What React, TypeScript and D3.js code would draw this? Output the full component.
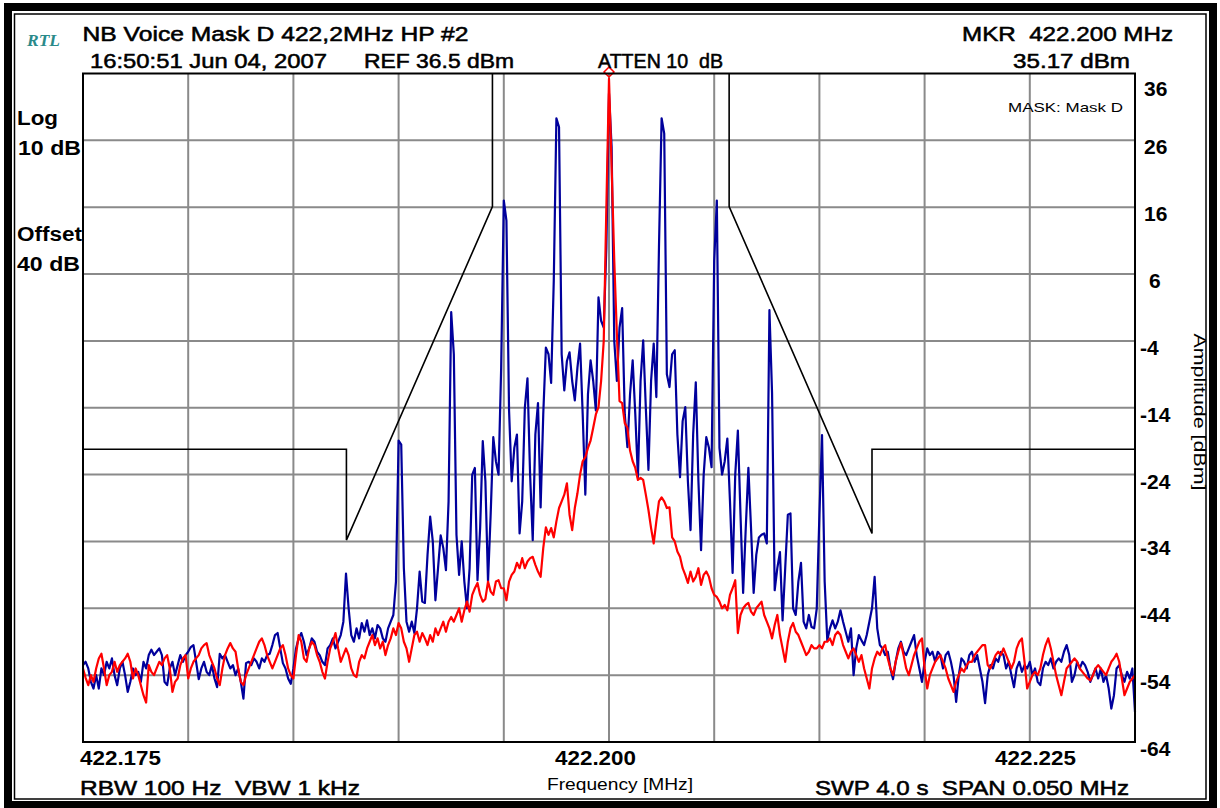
import React, { useEffect, useRef } from "react";
import * as d3 from "d3";

const WIDTH = 1220;
const HEIGHT = 808;

const startFreq = 422.175; // MHz
const stopFreq = 422.225;
const centerFreq = 422.2;

const ampTicks = [36, 26, 16, 6, -4, -14, -24, -34, -44, -54, -64];
const freqTickValues = [422.175, 422.2, 422.225];
const freqTickLabels = ["422.175", "422.200", "422.225"];

// 401 sweep points, dBm (modulated signal)
const blueTrace = [
  -52.5, -52, -53, -55, -56, -54, -56, -53, -54, -52, -53, -51.5, -54, -55.5, -53, -52, -54, -56.5, -55, -53,
  -54, -53.5, -55, -52, -53, -51, -50.2, -51, -50.5, -50, -51, -55, -55.5, -53, -52, -54, -52.5, -51, -52, -51,
  -50.5, -49.8, -49.5, -52, -54.6, -53, -52, -53.5, -54, -52.5, -54.5, -55.8, -50.8, -51.5, -51, -52, -53, -52.5, -54, -53,
  -55, -57.5, -52.2, -52, -52.5, -51.5, -52, -53, -51.5, -52, -51, -50.8, -49.5, -48, -47.7, -50, -52.2, -53, -54.5, -55.3,
  -53, -50, -48.5, -47.7, -49, -51, -50, -48.5, -49, -50.5, -51, -52, -52.5, -50, -49.5, -48.5, -50, -49, -48, -46,
  -38.8, -44, -48, -49, -47, -48.5, -46.2, -47.5, -45.8, -48, -47, -48.5, -46.5, -47, -48.5, -49, -47, -46, -45, -40,
  -18.9, -19.5, -38, -46, -47.5, -46, -47.7, -44, -38.5, -43, -43.2, -36, -30.3, -34, -42.8, -38, -33.1, -35, -38.3, -28,
  0.3, -6, -33, -39, -34, -40, -44, -38, -24, -23, -39.8, -32, -19, -25, -40, -30, -18.4, -22, -24, -8,
  17, 14, -14.4, -25, -20, -18, -32.8, -28, -14, -9.6, -24, -33.8, -18, -13.3, -28.9, -15, -5, -6, -10.3, 5,
  29.3, 28, -6, -11.4, -7, -5.7, -10, -12.9, -8, -4.4, -15, -27, -12, -6.9, -10, -14.4, 2.5, -1, -2, 10,
  33, 25, -4, -10, -2, 0.9, -15, -19.9, -12, -6.9, -15, -24.4, -10, -3.9, -14, -23.3, -10, -4.4, -12.4, 10,
  29.3, 27, -9, -10.9, -6, -5.4, -18, -24.4, -16, -13.9, -25, -32.3, -18, -10.2, -25, -35.3, -24, -18.4, -20, -22.9,
  8, 17, -20, -24, -22, -18.6, -28, -38.7, -24, -17.4, -30, -41.7, -32, -23, -32, -41.7, -36, -33.4, -33, -32.8,
  -34.3, 0.6, -11.8, -41.3, -38, -35.6, -45.8, -38, -30, -29.8, -44, -45, -40, -37.2, -46, -47, -45, -46.8, -47, -44,
  -30, -18.1, -40, -48.8, -47, -45.8, -47, -46, -44.3, -46, -47.5, -49, -47, -54, -50, -48, -48.8, -49.5, -48, -46,
  -44, -39.3, -47, -49.5, -50, -51, -50.5, -53, -54.6, -52, -50, -49, -50.5, -51, -50, -49, -48, -51, -53, -55,
  -52, -50, -51, -50.5, -52, -50.5, -51, -53, -51, -50.5, -52, -54, -58, -54, -51.5, -52, -53, -51, -50.5, -52,
  -51, -53, -55, -58.2, -54, -52.5, -53, -51.5, -52, -50.5, -51, -53, -52, -54, -55.8, -53, -52, -53.5, -52.5, -53,
  -52, -54, -53, -55, -55.5, -53, -52, -52.5, -51.5, -53, -52, -51.5, -52, -50.5, -49.5, -51, -55, -54, -52, -53,
  -52, -52.5, -53.5, -55, -54, -53, -54.5, -53, -55, -54, -56, -59, -57, -53, -52.5, -54, -55, -53.5, -54.5, -53,
  -59.5,
];

// 401 sweep points, dBm (unmodulated carrier)
const redTrace = [
  -53, -54.4, -55.5, -54, -55, -53, -51.5, -50.8, -53, -55.5, -54, -53.5, -52, -53.5, -52.5, -52, -51.5, -50.8, -52, -54.5,
  -53, -54, -55.5, -57, -58.1, -52.5, -53.5, -54, -53, -52, -52.5, -51.5, -51, -53, -56.5, -55, -54.5, -52.5, -51.5, -51,
  -54.5, -53, -52, -51.5, -51, -50, -49.5, -49.2, -51, -52, -53, -54.5, -55.5, -53, -51, -50, -49.2, -50, -50.5, -53,
  -55, -55.5, -54, -53, -52, -51, -50, -49, -48.5, -49.5, -51, -52, -53, -52, -51, -50, -49.5, -51, -53, -54,
  -54.5, -51, -48, -49, -51.5, -52, -50, -49, -49.5, -51, -52, -53.5, -54.5, -52, -50, -49, -47.7, -50, -52, -51,
  -50, -51, -53, -54, -54.3, -52, -51, -51.5, -50, -49, -48, -49.5, -48.5, -50, -49, -51, -49.5, -48.5, -47, -48,
  -46.2, -47, -49, -50, -52, -50, -48, -47.5, -49, -47.7, -48.5, -49.5, -48, -49, -47, -48, -47, -46, -47.5, -46,
  -45.3, -46, -45, -44, -46, -44.3, -43, -44.5, -42, -41, -40.2, -42, -43, -42.6, -40, -41.5, -42, -40, -39.8, -41,
  -41, -42.8, -40, -39, -38.5, -37.2, -38, -36.5, -38, -37, -36.5, -36.3, -37.5, -38.5, -39.3, -35, -31.9, -33, -32, -33.4,
  -31, -29, -28, -27, -25.3, -30, -32.3, -29, -26.8, -24, -22, -21.4, -20, -18.9, -17, -15, -13.9, -10, -4, 16,
  35.2, 22, 8, -3, -13, -13.3, -16.3, -17, -20.4, -22, -23, -24.8, -24.5, -24.8, -27, -29.3, -32, -34.3, -31, -28,
  -27.4, -28, -29, -28.9, -33.4, -34, -35.5, -36.3, -38, -39, -40.2, -38.5, -40, -39.3, -38, -40.5, -39, -38.5, -39.3, -41,
  -42, -42.3, -43, -44, -43.5, -44.3, -42, -41, -39.8, -47.7, -45, -44, -43.5, -43.2, -44.5, -45, -44, -43.5, -43, -45,
  -46, -47, -48.5, -46.5, -45, -48, -50, -52, -49, -47, -46.2, -47.5, -48, -49, -50, -51, -50.5, -49.5, -50, -50,
  -49.5, -50, -49, -49, -48.5, -49.5, -48, -47.5, -48, -49.5, -50.5, -51.5, -50.5, -50, -51, -52, -51, -53, -54.5, -56,
  -53, -51.5, -50.5, -51, -50, -49.5, -51.5, -53, -54, -52, -50.5, -49.2, -51, -53, -54, -52.5, -51, -50, -49, -48.5,
  -53, -56, -54, -53, -52, -51.5, -51, -52, -53, -54.5, -55.5, -56.5, -55, -54, -53, -53.5, -52.5, -52, -52, -51,
  -50.5, -50, -49.5, -49.5, -52.5, -53, -52, -51, -50.5, -51, -50, -51, -52, -53, -52, -50, -49, -48.5, -52, -56,
  -55, -54, -53.5, -54, -53, -51, -49.5, -48.5, -50, -52, -54, -55.5, -57, -55, -53, -52.5, -52, -51.5, -52, -53,
  -53.5, -54, -54.5, -54.8, -54, -53, -52.5, -53, -53.5, -54, -53, -52, -51.5, -50.8, -52, -54.5, -57, -56, -55, -54.5,
  -54,
];

// limit mask: offset from centre (kHz) and level (dBm)
const maskLeftKHz = [-25, -12.48, -12.48, -5.54, -5.54];
const maskLeftDbm = [-20.2, -20.2, -33.8, 16.1, 36];
const maskRightKHz = [5.71, 5.71, 12.5, 12.5, 25];
const maskRightDbm = [36, 16.1, -32.8, -20.2, -20.2];

const markerFreq = 422.2;
const markerDbm = 35.17;

const SANS = "'Liberation Sans', Arial, sans-serif";

const App = () => {
  const ref = useRef<SVGSVGElement>(null);

  useEffect(() => {
    const svg = d3.select(ref.current);
    svg.selectAll("*").remove();

    const left = 83;
    const right = 1135;
    const top = 73.5;
    const bottom = 742;

    const x = d3.scaleLinear().domain([startFreq, stopFreq]).range([left, right]);
    const y = d3.scaleLinear().domain([-64, 36]).range([bottom, top]);

    svg.append("rect").attr("width", WIDTH).attr("height", HEIGHT).attr("fill", "#fff");

    // frame: heavy outer band + thin inner line
    svg.append("rect")
      .attr("x", 8).attr("y", 7).attr("width", 1205).attr("height", 798)
      .attr("fill", "none").attr("stroke", "#000").attr("stroke-width", 8);
    svg.append("rect")
      .attr("x", 14.5).attr("y", 14).attr("width", 1191.5).attr("height", 785)
      .attr("fill", "none").attr("stroke", "#000").attr("stroke-width", 1.5);

    // grid
    const grid = svg.append("g").attr("stroke", "#8a8a8a").attr("stroke-width", 2);
    const vLines = d3.range(1, 10).map((k) => startFreq + k * 0.005);
    grid.selectAll("line.v").data(vLines).enter().append("line")
      .attr("x1", (d) => x(d)).attr("x2", (d) => x(d))
      .attr("y1", top).attr("y2", bottom);
    grid.selectAll("line.h").data(ampTicks.slice(1, -1)).enter().append("line")
      .attr("y1", (d) => y(d)).attr("y2", (d) => y(d))
      .attr("x1", left).attr("x2", right);

    // mask
    const maskLine = d3.line<[number, number]>()
      .x((d) => x(centerFreq + d[0] / 1000))
      .y((d) => y(d[1]));
    const leftPts = maskLeftKHz.map((k, i) => [k, maskLeftDbm[i]] as [number, number]);
    const rightPts = maskRightKHz.map((k, i) => [k, maskRightDbm[i]] as [number, number]);
    [leftPts, rightPts].forEach((pts) => {
      svg.append("path").attr("d", maskLine(pts))
        .attr("fill", "none").attr("stroke", "#000").attr("stroke-width", 1.6);
    });

    // traces
    const n = blueTrace.length;
    const freqAt = (i: number) => startFreq + (i * (stopFreq - startFreq)) / (n - 1);
    const traceLine = d3.line<number>()
      .x((_, i) => x(freqAt(i)))
      .y((d) => y(d));

    svg.append("path").attr("d", traceLine(blueTrace))
      .attr("fill", "none").attr("stroke", "#00009c").attr("stroke-width", 2.2)
      .attr("stroke-linejoin", "round");
    svg.append("path").attr("d", traceLine(redTrace))
      .attr("fill", "none").attr("stroke", "#ff0000").attr("stroke-width", 2.2)
      .attr("stroke-linejoin", "round");

    // marker
    const mx = x(markerFreq);
    const my = y(markerDbm) - 7;
    svg.append("path")
      .attr("d", `M${mx},${my - 5}L${mx + 5},${my}L${mx},${my + 5}L${mx - 5},${my}Z`)
      .attr("fill", "none").attr("stroke", "#ff0000").attr("stroke-width", 1.5);

    // plot border
    svg.append("rect")
      .attr("x", left).attr("y", top).attr("width", right - left).attr("height", bottom - top)
      .attr("fill", "none").attr("stroke", "#000").attr("stroke-width", 2);

    const addText = (
      tx: number, ty: number, str: string, size: number,
      opts: { weight?: string; len?: number; anchor?: string; fill?: string; family?: string; italic?: boolean; transform?: string; heavy?: boolean } = {}
    ) => {
      const t = svg.append("text")
        .attr("x", tx).attr("y", ty)
        .attr("font-family", opts.family || SANS)
        .attr("font-size", size)
        .attr("font-weight", opts.weight || "normal")
        .attr("fill", opts.fill || "#000")
        .attr("text-anchor", opts.anchor || "start")
        .style("white-space", "pre")
        .text(str);
      if (opts.heavy) t.attr("stroke", opts.fill || "#000").attr("stroke-width", 0.55);
      if (opts.italic) t.attr("font-style", "italic");
      if (opts.len) t.attr("textLength", opts.len).attr("lengthAdjust", "spacingAndGlyphs");
      if (opts.transform) t.attr("transform", opts.transform);
      return t;
    };

    // header
    addText(27, 46, "RTL", 17, { family: "'Liberation Serif', serif", italic: true, fill: "#2a8a8a", len: 33, weight: "bold" });
    addText(82.5, 41, "NB Voice Mask D 422,2MHz HP #2", 21, { len: 386, heavy: true });
    addText(90, 68, "16:50:51 Jun 04, 2007", 21, { len: 237, heavy: true });
    addText(364, 68, "REF 36.5 dBm", 21, { len: 150, heavy: true });
    addText(598, 68, "ATTEN 10  dB", 21, { len: 125, heavy: true });
    addText(962, 41, "MKR  422.200 MHz", 21, { len: 211, heavy: true });
    addText(1013, 68, "35.17 dBm", 21, { len: 117, heavy: true });
    addText(1008, 112, "MASK: Mask D", 13, { len: 115 });

    // left labels
    addText(17, 125, "Log", 20, { weight: "bold", len: 41 });
    addText(18, 155, "10 dB", 20, { weight: "bold", len: 63 });
    addText(17, 241, "Offset", 20, { weight: "bold", len: 65 });
    addText(17, 271, "40 dB", 20, { weight: "bold", len: 63 });

    // amplitude ticks
    ampTicks.forEach((v) => {
      const tx = v < 0 ? 1140 : v < 10 ? 1149 : 1144;
      const ty = Math.max(y(v) + 14, 96);
      addText(tx, ty, v < 0 ? `-${Math.abs(v)}` : `${v}`, 21, { weight: "bold" });
    });

    // frequency ticks
    const freqLabelX = [x(freqTickValues[0]) - 3, x(freqTickValues[1]) - 54, x(freqTickValues[2]) - 140];
    freqTickLabels.forEach((lab, i) => {
      addText(freqLabelX[i], 765, lab, 21, { weight: "bold", len: 81 });
    });

    // footer
    addText(80, 795, "RBW 100 Hz  VBW 1 kHz", 21, { len: 280, heavy: true });
    addText(547, 790, "Frequency [MHz]", 17, { len: 146 });
    addText(815, 795, "SWP 4.0 s  SPAN 0.050 MHz", 21, { len: 314, heavy: true });

    addText(0, 0, "Amplitude [dBm]", 16, {
      anchor: "middle", len: 157, transform: "translate(1194,412) rotate(90)",
    });
  }, []);

  return (
    <div style={{ position: "absolute", left: 0, top: 0 }}>
      <svg ref={ref} width={WIDTH} height={HEIGHT} style={{ display: "block" }}></svg>
    </div>
  );
};

export default App;
